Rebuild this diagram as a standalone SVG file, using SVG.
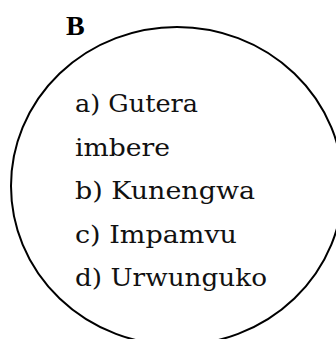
<svg xmlns="http://www.w3.org/2000/svg" width="336" height="339" viewBox="0 0 336 339">
<style>
.t{font-family:"DejaVu Serif","Liberation Serif",serif;font-size:25px;fill:#111}
.h{font-family:"Liberation Serif","DejaVu Serif",serif;font-size:28px;font-weight:bold;fill:#000}
</style>
<rect width="336" height="339" fill="#fff"/>
<g id="nodeB">
<ellipse cx="177" cy="186" rx="166" ry="159" fill="none" stroke="#000" stroke-width="2"/>
<text class="h" x="66" y="35">B</text>
<text class="t" x="75" y="112" textLength="123" lengthAdjust="spacingAndGlyphs">a) Gutera</text>
<text class="t" x="75" y="155.5" textLength="95" lengthAdjust="spacingAndGlyphs">imbere</text>
<text class="t" x="75" y="199" textLength="180" lengthAdjust="spacingAndGlyphs">b) Kunengwa</text>
<text class="t" x="75" y="242.5" textLength="162" lengthAdjust="spacingAndGlyphs">c) Impamvu</text>
<text class="t" x="75" y="286" textLength="192" lengthAdjust="spacingAndGlyphs">d) Urwunguko</text>
</g>
<g id="connectors"/>
</svg>
